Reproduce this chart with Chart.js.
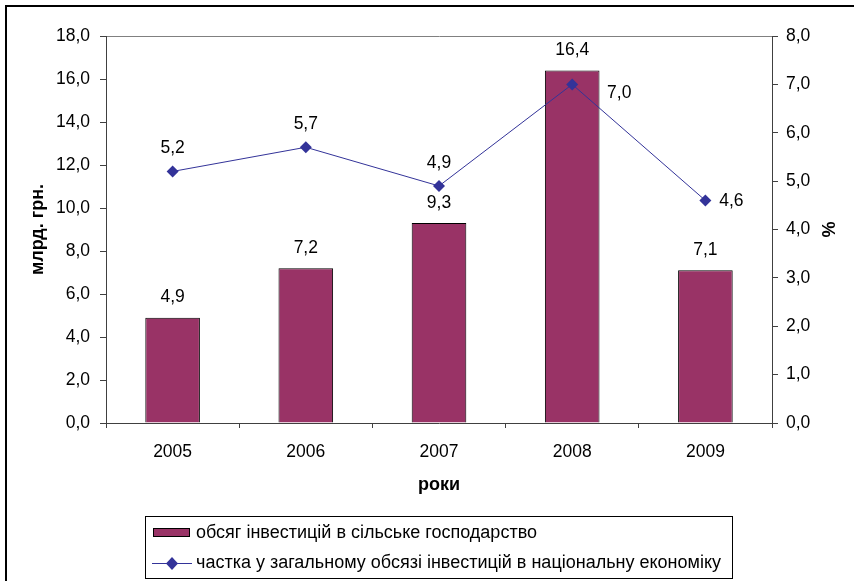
<!DOCTYPE html>
<html>
<head>
<meta charset="utf-8">
<script src="https://cdn.jsdelivr.net/npm/chart.js@4"></script>
<style>
  html, body { margin: 0; padding: 0; background: #fff; }
  #wrap { width: 854px; height: 581px; position: relative; }
</style>
</head>
<body>
<div id="wrap"><canvas id="chart" width="854" height="581"></canvas></div>
<script>
const years = ["2005", "2006", "2007", "2008", "2009"];
const investVolume = [4.9, 7.2, 9.3, 16.4, 7.1];     // млрд. грн.
const investShare = [5.2, 5.7, 4.9, 7.0, 4.6];       // %
const seriesNames = [
  "обсяг інвестицій в сільське господарство",
  "частка у загальному обсязі інвестицій в національну економіку"
];

const FONT = '"Liberation Sans", Arial, sans-serif';
const BAR_COLOR = "#993366";
const LINE_COLOR = "#333399";

function fmt(v) {
  return v.toFixed(1).replace(".", ",");
}

// white background + outer frame (only top/left edges are in view)
const framePlugin = {
  id: "frame",
  beforeDraw(chart) {
    const c = chart.ctx;
    c.save();
    c.fillStyle = "#fff";
    c.fillRect(0, 0, chart.width, chart.height);
    c.strokeStyle = "#000";
    c.lineWidth = 2;
    c.beginPath();
    c.moveTo(6, chart.height + 5);
    c.lineTo(6, 6);
    c.lineTo(chart.width + 5, 6);
    c.stroke();
    c.restore();
  }
};

// value labels
const valueLabels = {
  id: "valueLabels",
  afterDatasetsDraw(chart) {
    const c = chart.ctx;
    const lineOffsets = [[0, -23], [0, -23], [0, -23], [47, 9], [26, 1]];
    c.save();
    c.font = "17.5px " + FONT;
    c.fillStyle = "#000";
    c.textAlign = "center";
    c.textBaseline = "middle";
    chart.getDatasetMeta(0).data.forEach((bar, i) => {
      c.fillText(fmt(investVolume[i]), bar.x, bar.y - 20);
    });
    chart.getDatasetMeta(1).data.forEach((pt, i) => {
      const o = lineOffsets[i];
      c.fillText(fmt(investShare[i]), pt.x + o[0], pt.y + o[1]);
    });
    c.restore();
  }
};

// boxed legend under the axis title
const boxLegend = {
  id: "boxLegend",
  afterDraw(chart) {
    const c = chart.ctx;
    c.save();
    c.strokeStyle = "#000";
    c.lineWidth = 1;
    c.strokeRect(145.5, 516.5, 587, 62);

    c.fillStyle = BAR_COLOR;
    c.fillRect(153, 528, 37, 9);
    c.strokeRect(153.5, 528.5, 36, 8);

    c.strokeStyle = LINE_COLOR;
    c.beginPath();
    c.moveTo(152, 563.5);
    c.lineTo(192, 563.5);
    c.stroke();
    c.fillStyle = LINE_COLOR;
    c.beginPath();
    c.moveTo(172, 557);
    c.lineTo(178, 563.5);
    c.lineTo(172, 570);
    c.lineTo(166, 563.5);
    c.closePath();
    c.fill();

    c.font = "18px " + FONT;
    c.fillStyle = "#000";
    c.textAlign = "left";
    c.textBaseline = "middle";
    c.fillText(seriesNames[0], 196, 533);
    c.fillText(seriesNames[1], 196, 563);
    c.restore();
  }
};

new Chart(document.getElementById("chart"), {
  type: "bar",
  data: {
    labels: years,
    datasets: [
      {
        type: "bar",
        label: seriesNames[0],
        data: investVolume,
        backgroundColor: BAR_COLOR,
        borderColor: "#000",
        borderWidth: 1,
        barPercentage: 0.41,
        categoryPercentage: 1,
        yAxisID: "y",
        order: 1
      },
      {
        type: "line",
        label: seriesNames[1],
        data: investShare,
        borderColor: LINE_COLOR,
        backgroundColor: LINE_COLOR,
        borderWidth: 1,
        pointStyle: "rectRot",
        pointRadius: 6,
        pointBorderWidth: 0,
        tension: 0,
        yAxisID: "y1",
        order: 0
      }
    ]
  },
  options: {
    responsive: false,
    animation: false,
    layout: { padding: { left: 23, right: 12, top: 36, bottom: 83.2 } },
    plugins: {
      legend: { display: false },
      tooltip: { enabled: false }
    },
    scales: {
      x: {
        offset: true,
        grid: { offset: true, drawOnChartArea: false, tickLength: 5, color: "#404040" },
        border: { color: "#404040", width: 1 },
        ticks: { color: "#000", font: { family: FONT, size: 17.5 }, padding: 14 },
        title: {
          display: true, text: "роки", color: "#000",
          font: { family: FONT, size: 18, weight: "bold" },
          padding: { top: 4, bottom: 2 }
        },
        afterFit(s) { s.height = 74.8; }
      },
      y: {
        position: "left",
        min: 0, max: 18,
        ticks: {
          stepSize: 2, color: "#000", padding: 10,
          font: { family: FONT, size: 17.5 },
          callback: v => fmt(v)
        },
        grid: {
          drawOnChartArea: true,
          tickLength: 6,
          color: ctx => ctx.tick && ctx.tick.value === 18 ? "#808080" : "rgba(0,0,0,0)",
          tickColor: "#404040"
        },
        border: { color: "#404040", width: 1 },
        title: {
          display: true, text: "млрд. грн.", color: "#000",
          font: { family: FONT, size: 18, weight: "bold" },
          padding: { top: 4, bottom: 4 }
        },
        afterFit(s) { s.width = 83; }
      },
      y1: {
        position: "right",
        min: 0, max: 8,
        ticks: {
          stepSize: 1, color: "#000", padding: 8,
          font: { family: FONT, size: 17.5 },
          callback: v => fmt(v)
        },
        grid: { drawOnChartArea: false, tickLength: 6, color: "#404040" },
        border: { color: "#404040", width: 1 },
        title: {
          display: true, text: "%", color: "#000",
          font: { family: FONT, size: 18, weight: "bold" },
          padding: { top: 4, bottom: 4 }
        },
        afterFit(s) { s.width = 70; }
      }
    }
  },
  plugins: [framePlugin, valueLabels, boxLegend]
});
</script>
</body>
</html>
